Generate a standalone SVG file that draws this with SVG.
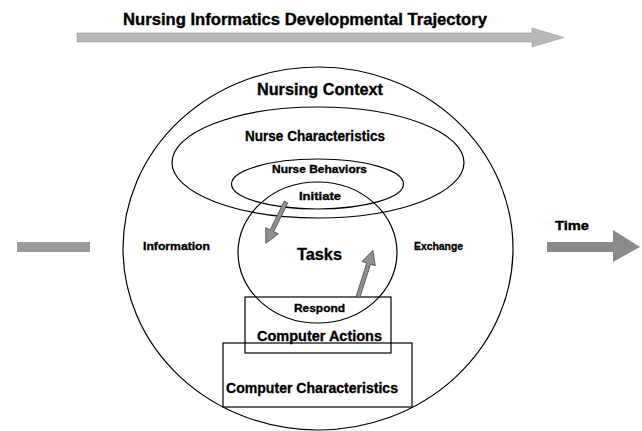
<svg xmlns="http://www.w3.org/2000/svg" width="642" height="431" viewBox="0 0 642 431">
<style>
.ln{fill:none;stroke:#000;stroke-width:1.2}
.t{font-family:"Liberation Sans",Arial,sans-serif;font-weight:bold;fill:#000;stroke:#000;stroke-width:0.35;text-anchor:middle}
.ga{fill:#b8b8b8;stroke:#9a9a9a;stroke-width:0.6}
.gd{fill:#8f8f8f;stroke:#444;stroke-width:0.7}
</style>
<rect width="642" height="431" fill="#fff"/>
<g id="title">
<text class="t" x="305" y="25" font-size="16" textLength="364" lengthAdjust="spacingAndGlyphs">Nursing Informatics Developmental Trajectory</text>
</g>
<g id="trajectory-arrow">
<polygon class="ga" points="77,33 532,33 532,28 564,37.5 532,47 532,42 77,42"/>
</g>
<g id="nursing-context">
<ellipse class="ln" cx="318" cy="248.5" rx="195" ry="181.5"/>
<text class="t" x="320" y="95" font-size="16" textLength="126" lengthAdjust="spacingAndGlyphs">Nursing Context</text>
</g>
<g id="nurse-characteristics">
<ellipse class="ln" cx="318" cy="162.5" rx="146" ry="55.5"/>
<text class="t" x="315" y="141" font-size="15" textLength="140" lengthAdjust="spacingAndGlyphs">Nurse Characteristics</text>
</g>
<g id="nurse-behaviors">
<ellipse class="ln" cx="317.5" cy="184" rx="86" ry="25"/>
<text class="t" x="319.5" y="173" font-size="11" textLength="95" lengthAdjust="spacingAndGlyphs">Nurse Behaviors</text>
</g>
<g id="tasks">
<ellipse class="ln" cx="317.5" cy="252.5" rx="79.5" ry="70.5"/>
<text class="t" x="319.5" y="260" font-size="17" textLength="45" lengthAdjust="spacingAndGlyphs">Tasks</text>
<text class="t" x="320" y="200" font-size="11" textLength="42" lengthAdjust="spacingAndGlyphs">Initiate</text>
<text class="t" x="319.5" y="312" font-size="11" textLength="51" lengthAdjust="spacingAndGlyphs">Respond</text>
</g>
<g id="computer-characteristics">
<rect class="ln" x="223" y="343" width="189" height="64"/>
<text class="t" x="312" y="393" font-size="15" textLength="172" lengthAdjust="spacingAndGlyphs">Computer Characteristics</text>
</g>
<g id="computer-actions">
<rect class="ln" x="245" y="297" width="146" height="56"/>
<text class="t" x="319.5" y="341" font-size="15" textLength="125" lengthAdjust="spacingAndGlyphs">Computer Actions</text>
</g>
<g id="information">
<text class="t" x="176.5" y="250" font-size="11" textLength="67" lengthAdjust="spacingAndGlyphs">Information</text>
</g>
<g id="exchange">
<text class="t" x="438.5" y="250" font-size="11" textLength="49" lengthAdjust="spacingAndGlyphs">Exchange</text>
</g>
<g id="time">
<text class="t" x="572" y="230" font-size="12" textLength="34" lengthAdjust="spacingAndGlyphs">Time</text>
</g>
<g id="connectors">
<rect x="17" y="242" width="73" height="10" fill="#9a9a9a"/>
<polygon fill="#8a8a8a" points="547,242 613,242 613,230 640,247 613,262 613,252 547,252"/>
<polygon class="gd" transform="translate(286,202) rotate(116)" points="0,-2 32,-2 32,-7 46,0 32,7 32,2 0,2"/>
<polygon class="gd" transform="translate(358,297) rotate(-72.3)" points="0,-2 35,-2 35,-7 49,0 35,7 35,2 0,2"/>
</g>
</svg>
